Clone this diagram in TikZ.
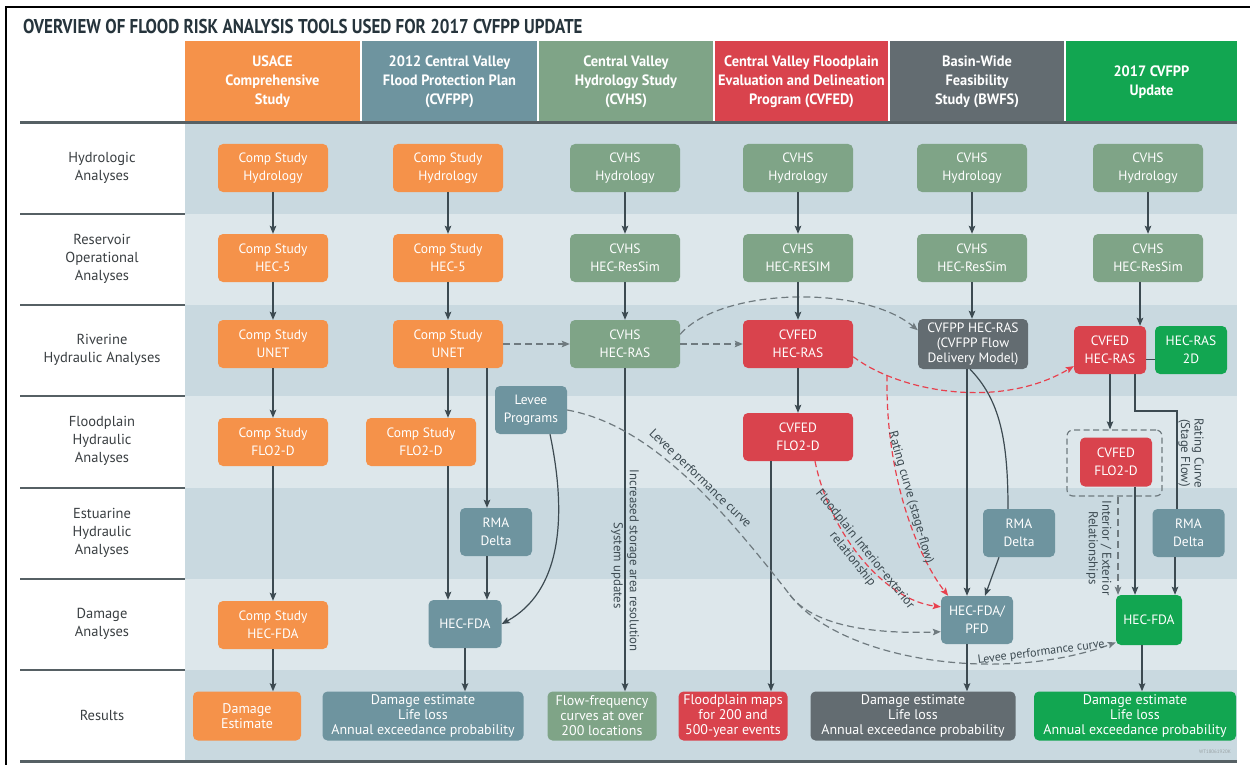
\documentclass[tikz,border=0pt]{standalone}
\usepackage{fontspec}
\setmainfont{PT Sans}
\newfontfamily\titlefont[FakeStretch=0.85]{PT Sans}
\newfontfamily\hdrfont[FakeStretch=0.96]{PT Sans}
\usetikzlibrary{arrows.meta,calc}
\definecolor{cO}{HTML}{F5924A}
\definecolor{cB}{HTML}{6E949F}
\definecolor{cG}{HTML}{7FA487}
\definecolor{cR}{HTML}{D9434D}
\definecolor{cK}{HTML}{636C71}
\definecolor{cN}{HTML}{12A651}
\definecolor{cL}{HTML}{3C4A51}
\definecolor{cD}{HTML}{6F7A7F}
\definecolor{cRd}{HTML}{E8414E}
\definecolor{bandD}{HTML}{C9D9E0}
\definecolor{bandL}{HTML}{DDE7EB}
\definecolor{cT}{HTML}{26343C}
\definecolor{cRow}{HTML}{3A3F42}
\definecolor{cSep}{HTML}{566064}
\begin{document}
\begin{tikzpicture}[x=1pt,y=-1pt,
  box/.style={rounded corners=5pt, minimum width=110pt, minimum height=48pt, inner sep=1pt, align=center, text=white, font=\fontsize{13.5}{18}\selectfont},
  boxO/.style={box, fill=cO},
  boxB/.style={box, fill=cB},
  boxG/.style={box, fill=cG},
  boxR/.style={box, fill=cR},
  boxK/.style={box, fill=cK},
  boxN/.style={box, fill=cN},
  sm/.style={minimum width=72pt},
  hdr/.style={minimum height=82pt, inner sep=0pt, text=white, align=center, font=\hdrfont\bfseries\fontsize{15}{19}\selectfont},
  rowlbl/.style={align=center, text=cRow, font=\fontsize{14.5}{18}\selectfont, inner sep=0pt},
  res/.style={rounded corners=5pt, minimum height=49pt, inner sep=1pt, align=center, text=white, font=\fontsize{14}{15}\selectfont},
  lbl/.style={text=cL, font=\fontsize{12.8}{13.5}\selectfont, inner sep=1.5pt, align=center},
  conn/.style={draw=cL, line width=1.2pt},
  arr/.style={conn, -{Stealth[length=8pt,width=6.5pt,inset=1.5pt]}},
  dashline/.style={draw=cD, line width=1.2pt, dash pattern=on 7pt off 4pt},
  dasharr/.style={dashline, -{Stealth[length=8pt,width=6.5pt,inset=1.5pt]}},
  reddash/.style={draw=cRd, line width=1.2pt, dash pattern=on 6pt off 3.5pt, -{Stealth[length=8pt,width=6.5pt,inset=1.5pt]}}
]
\useasboundingbox (0,0) rectangle (1250,765);
\fill[white] (0,0) rectangle (1250,765);
% frame
\draw[black, line width=1.5pt] (6,765) -- (6,7) -- (1250,7);
% title
\node[anchor=base west, inner sep=0pt, text=cT, font=\titlefont\bfseries\fontsize{20}{24}\selectfont] (title) at (23,34) {OVERVIEW OF FLOOD RISK ANALYSIS TOOLS USED FOR 2017 CVFPP UPDATE};
% bands
\fill[bandD] (185,123) rectangle (1237,214);
\fill[bandL] (185,214) rectangle (1237,305);
\fill[bandD] (185,305) rectangle (1237,396);
\fill[bandL] (185,396) rectangle (1237,488);
\fill[bandD] (185,488) rectangle (1237,579);
\fill[bandL] (185,579) rectangle (1237,670);
\fill[bandD] (185,670) rectangle (1237,761);
% headers
\node[hdr, fill=cO, minimum width=175pt] (H1) at (272.5,82) {USACE\\Comprehensive\\Study};
\node[hdr, fill=cB, minimum width=175pt] (H2) at (449.5,82) {2012 Central Valley\\Flood Protection Plan\\(CVFPP)};
\node[hdr, fill=cG, minimum width=174pt] (H3) at (626,82) {Central Valley\\Hydrology Study\\(CVHS)};
\node[hdr, fill=cR, minimum width=173pt] (H4) at (801.5,82) {Central Valley Floodplain\\Evaluation and Delineation\\Program (CVFED)};
\node[hdr, fill=cK, minimum width=174pt] (H5) at (977,82) {Basin-Wide\\Feasibility\\Study (BWFS)};
\node[hdr, fill=cN, minimum width=171pt] (H6) at (1151.5,82) {2017 CVFPP\\Update};
% separators
\draw[cSep, line width=3pt] (20,123) -- (1237,123);
\draw[cSep, line width=3pt] (20,761) -- (1237,761);
\foreach \yy in {214,305,396,488,579,670} \draw[cSep, line width=1.5pt] (20,\yy) -- (185,\yy);
% row labels
\node[rowlbl] (L1) at (102,168) {Hydrologic\\Analyses};
\node[rowlbl] (L2) at (102,259) {Reservoir\\Operational\\Analyses};
\node[rowlbl] (L3) at (102,350) {Riverine\\Hydraulic Analyses};
\node[rowlbl] (L4) at (102,441) {Floodplain\\Hydraulic\\Analyses};
\node[rowlbl] (L5) at (102,533) {Estuarine\\Hydraulic\\Analyses};
\node[rowlbl] (L6) at (102,624) {Damage\\Analyses};
\node[rowlbl] (L7) at (102,715) {Results};
% column 1
\node[boxO] (h1) at (273,168) {Comp Study\\Hydrology};
\node[boxO] (r1) at (273,258) {Comp Study\\HEC-5};
\node[boxO] (u1) at (273,344) {Comp Study\\UNET};
\node[boxO] (f1) at (273,442) {Comp Study\\FLO2-D};
\node[boxO] (d1) at (273,625) {Comp Study\\HEC-FDA};
% column 2
\node[boxO] (h2) at (448,168) {Comp Study\\Hydrology};
\node[boxO] (r2) at (448,258) {Comp Study\\HEC-5};
\node[boxO] (u2) at (448,344) {Comp Study\\UNET};
\node[boxO] (f2) at (421,442) {Comp Study\\FLO2-D};
\node[boxB, sm] (lev) at (531,410) {Levee\\Programs};
\node[boxB, sm] (rma2) at (496,532) {RMA\\Delta};
\node[boxB, minimum width=73pt] (d2) at (465,624) {HEC-FDA};
% column 3
\node[boxG] (h3) at (625,168) {CVHS\\Hydrology};
\node[boxG] (r3) at (625,258) {CVHS\\HEC-ResSim};
\node[boxG] (ras3) at (625,344) {CVHS\\HEC-RAS};
% column 4
\node[boxG] (h4) at (798,168) {CVHS\\Hydrology};
\node[boxG] (r4) at (798,258) {CVHS\\HEC-RESIM};
\node[boxR] (ras4) at (798,344) {CVFED\\HEC-RAS};
\node[boxR] (f4) at (798,437) {CVFED\\FLO2-D};
% column 5
\node[boxG] (h5) at (972,168) {CVHS\\Hydrology};
\node[boxG] (r5) at (972,258) {CVHS\\HEC-ResSim};
\node[boxK, minimum height=50pt, font=\fontsize{13.5}{15}\selectfont] (cvf) at (973,344) {CVFPP HEC-RAS\\(CVFPP Flow\\Delivery Model)};
\node[boxB, sm] (rma5) at (1019,533) {RMA\\Delta};
\node[boxB, sm] (pfd) at (977,620) {HEC-FDA/\\PFD};
% column 6
\node[boxG] (h6) at (1148,168) {CVHS\\Hydrology};
\node[boxG] (r6) at (1148,258) {CVHS\\HEC-ResSim};
\node[boxR, sm] (ras6) at (1110,350) {CVFED\\HEC-RAS};
\node[boxN, sm] (hr2d) at (1191,350) {HEC-RAS\\2D};
\node[draw=cD, line width=1.2pt, dash pattern=on 6pt off 3.5pt, rounded corners=6pt, minimum width=95pt, minimum height=66pt, inner sep=0pt] (dbox) at (1114.5,463) {};
\node[boxR, sm, minimum height=49pt] (f6) at (1116,462) {CVFED\\FLO2-D};
\node[boxB, sm] (rma6) at (1188.5,533) {RMA\\Delta};
\node[boxN, minimum width=66pt, minimum height=50pt] (fda6) at (1149,620) {HEC-FDA};
% results
\node[res, fill=cO, minimum width=108pt] (res1) at (247,716) {Damage\\Estimate};
\node[res, fill=cB, minimum width=201pt] (res2) at (423,716) {Damage estimate\\Life loss\\Annual exceedance probability};
\node[res, fill=cG, minimum width=109pt] (res3) at (602,716) {Flow-frequency\\curves at over\\200 locations};
\node[res, fill=cR, minimum width=109pt] (res4) at (733,716) {Floodplain maps\\for 200 and\\500-year events};
\node[res, fill=cK, minimum width=205pt] (res5) at (913,716) {Damage estimate\\Life loss\\Annual exceedance probability};
\node[res, fill=cN, minimum width=202pt] (res6) at (1135,716) {Damage estimate\\Life loss\\Annual exceedance probability};
\node[text=cD!70, font=\fontsize{5}{6}\selectfont, inner sep=0pt] (tag) at (1215,752) {WT18061920K};
% connectors column 1
\draw[arr] (h1) -- (r1);
\draw[arr] (r1) -- (u1);
\draw[arr] (u1) -- (f1);
\draw[arr] (f1) -- (d1);
\draw[arr] (d1.south) -- (d1.south |- res1.north);
% column 2
\draw[arr] (h2) -- (r2);
\draw[arr] (r2) -- (u2);
\draw[arr] (u2.south) -- (u2.south |- f2.north);
\draw[arr] (u2.south |- f2.south) -- (u2.south |- d2.north);
\coordinate (u2r) at ([xshift=39pt]u2.south);
\draw[arr] (u2r) -- (u2r |- rma2.north);
\draw[arr] (u2r |- rma2.south) -- (u2r |- d2.north);
\draw[arr] (d2.south) -- (d2.south |- res2.north);
\draw[arr] ([xshift=19pt]lev.south) .. controls (568,520) and (560,592) .. (d2.east);
\draw[dasharr] (u2.east) -- (ras3.west);
% column 3
\draw[arr] (h3) -- (r3);
\draw[arr] (r3) -- (ras3);
\draw[arr] (ras3.south) -- node[pos=0.596, rotate=-90, anchor=south, lbl] (st1) {Increased storage area resolution} node[pos=0.611, rotate=-90, anchor=north, lbl] (st2) {System updates} (ras3.south |- res3.north);
\draw[dasharr] (ras3.east) -- (ras4.west);
\draw[dasharr] (ras3.10) .. controls (720,288) and (862,284) .. (cvf.166);
% column 4
\draw[arr] (h4) -- (r4);
\draw[arr] (r4) -- (ras4);
\draw[arr] (ras4) -- (f4);
\coordinate (f4b) at ([xshift=-27pt]f4.south);
\draw[arr] (f4b) -- (f4b |- res4.north);
\draw[reddash] (ras4.-13) .. controls (900,392) and (1000,410) .. coordinate[pos=0.2] (rc) (ras6.204);
\draw[reddash] (rc) .. controls (885,480) and (920,560) .. node[pos=0.45, sloped, anchor=south, lbl] (rcl) {Rating curve (stage-flow)} (pfd.140);
\draw[reddash] ([xshift=17pt]f4.south) .. controls (830,535) and (885,600) .. node[pos=0.47, sloped, anchor=south, lbl] (fpl1) {Floodplain Interior-exterior} node[pos=0.47, sloped, anchor=north, lbl] (fpl2) {relationship} (pfd.160);
% levee performance curves
\coordinate (split) at (790,595);
\draw[dashline] (lev.east) .. controls (650,425) and (720,505) .. node[pos=0.55, sloped, anchor=south, lbl] (lpc1) {Levee performance curve} (split);
\draw[dasharr] (split) .. controls (815,628) and (880,634) .. (pfd.198);
\draw[dasharr] (split) .. controls (840,660) and (1000,685) .. node[pos=0.8, sloped, anchor=south, lbl, font=\fontsize{12}{13}\selectfont] (lpc2) {Levee performance curve} (fda6.214);
% column 5
\draw[arr] (h5) -- (r5);
\draw[arr] (r5) -- (r5 |- cvf.north);
\coordinate (cvfb) at ([xshift=-6pt]cvf.south);
\draw[arr] (cvfb) -- (cvfb |- pfd.north);
\draw[conn] ([xshift=-3pt]cvf.south) .. controls (1000,400) and (1008,440) .. ([xshift=-11pt]rma5.north);
\draw[arr] ([xshift=-20pt]rma5.south) -- ([xshift=8pt]pfd.north);
\coordinate (pfdb) at ([xshift=-10pt]pfd.south);
\draw[arr] (pfdb) -- (pfdb |- res5.north);
% column 6
\draw[arr] (h6) -- (r6);
\coordinate (r6b) at ([xshift=-8pt]r6.south);
\draw[arr] (r6b) -- (r6b |- ras6.north);
\draw[conn] (ras6.-15) -- (hr2d.195);
\draw[arr] (ras6.south) -- (ras6.south |- dbox.north);
\coordinate (ras6r) at ([xshift=25pt]ras6.south);
\coordinate (rcbend) at (1177,411);
\draw[conn] (ras6r) |- (rcbend) -- (rcbend |- rma6.north);
\node[lbl, rotate=-90] (rcs) at (1191,453) {Rating Curve\\(Stage Flow)};
\coordinate (f6b) at ([xshift=19pt]f6.south);
\draw[arr] (f6b) -- (f6b |- fda6.north);
\coordinate (dbb) at ([xshift=3.5pt]dbox.south);
\draw[dasharr] (dbb) -- (dbb |- fda6.north);
\coordinate (rma6b) at ([xshift=-13.5pt]rma6.south);
\draw[arr] (rma6b) -- (rma6b |- fda6.north);
\node[lbl, rotate=-90] (iel) at (1099,548) {Interior / Exterior\\Relationships};
\coordinate (fda6b) at ([xshift=-7pt]fda6.south);
\draw[arr] (fda6b) -- (fda6b |- res6.north);
\end{tikzpicture}
\end{document}
